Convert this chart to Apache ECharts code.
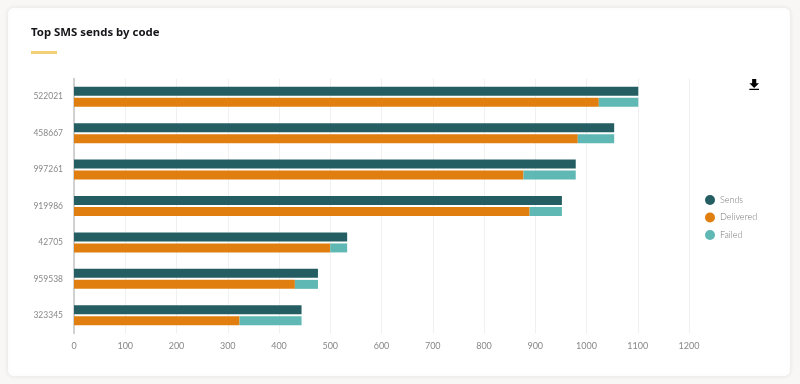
<!DOCTYPE html>
<html><head><meta charset="utf-8">
<style>html,body{margin:0;padding:0;background:#f8f7f5}#c{width:800px;height:384px}</style>
<script src="https://cdn.jsdelivr.net/npm/echarts@6/dist/echarts.min.js"></script>
</head><body><div id="c"></div>
<script>
const titleText = 'Top SMS sends by code';
const codes = ['522021','458667','997261','919986','42705','959538','323345'];
const sends = [1101,1054,979,952,533,476,444];
const delivered = [1024,983,877,889,500,431,323];
const failed = [77,71,102,63,33,45,121];
const xTicks = {min:0,max:1200,interval:100};
const colors = {sends:'#245e63',delivered:'#e07f10',failed:'#5fb8b3'};
const barStyle = c => ({color:c,borderWidth:0});
const chart = echarts.init(document.getElementById('c'),null,{renderer:'canvas'});
chart.setOption({
  animation:false,
  backgroundColor:'#f8f7f5',
  textStyle:{fontFamily:'Lato'},
  graphic:[
    {type:'rect',z:-10,shape:{x:7.5,y:7.5,width:783,height:369,r:6},style:{fill:'#fff',stroke:'#efeeec',lineWidth:1,shadowColor:'rgba(0,0,0,0.06)',shadowBlur:4}},
    {type:'rect',z:1,shape:{x:31,y:51,width:26,height:3},style:{fill:'#f3cf78'}}
  ],
  title:{text:titleText,left:26,top:22,textStyle:{fontFamily:'Noto Sans',fontSize:11.4,fontWeight:'bold',color:'#16161a'}},
  toolbox:{right:26,top:64,itemSize:11,feature:{saveAsImage:{title:'',icon:'path://M5 0H11V6H15L8 13L1 6H5ZM1 14H15V16H1Z'}},iconStyle:{color:'#000',borderWidth:0}},
  legend:{orient:'vertical',left:700,top:190,itemWidth:10,itemHeight:10,itemGap:7.5,icon:'circle',
    textStyle:{fontFamily:'Lato',fontSize:9,color:'#777',fontWeight:300},data:['Sends','Delivered','Failed']},
  grid:{left:74,top:78.5,width:615,height:255,containLabel:false},
  xAxis:{type:'value',min:xTicks.min,max:xTicks.max,interval:xTicks.interval,
    axisLine:{show:false},axisTick:{show:false},
    axisLabel:{margin:8,fontFamily:'Lato',fontSize:9,color:'#888',formatter:v=>String(v)},
    splitLine:{lineStyle:{color:'#eef0f2',width:1}}},
  yAxis:{type:'category',inverse:true,data:codes,
    axisLine:{lineStyle:{color:'#c4c4c4',width:1.5}},axisTick:{show:false},
    axisLabel:{margin:11,fontFamily:'Lato',fontSize:8.5,color:'#888',lineHeight:12,padding:[3,0,0,0]}},
  series:[
    {name:'Sends',type:'bar',stack:'a',data:sends,barWidth:9,barGap:'22%',itemStyle:barStyle(colors.sends)},
    {name:'Delivered',type:'bar',stack:'b',data:delivered,barWidth:9,itemStyle:barStyle(colors.delivered)},
    {name:'Failed',type:'bar',stack:'b',data:failed,barWidth:9,itemStyle:barStyle(colors.failed)}
  ],
  color:[colors.sends,colors.delivered,colors.failed]
});
</script></body></html>
